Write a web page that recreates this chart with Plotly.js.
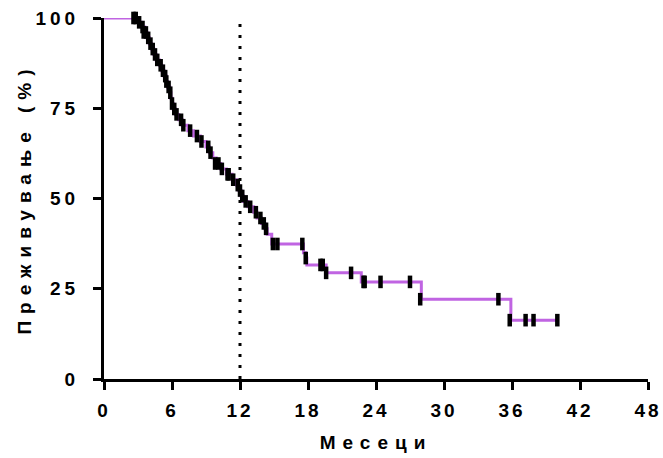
<!DOCTYPE html>
<html>
<head>
<meta charset="utf-8">
<script src="https://cdn.plot.ly/plotly-3.0.1.min.js"></script>
<style>
html,body{margin:0;padding:0;background:#fff;}
#chart{width:663px;height:458px;}
g.xtick text{letter-spacing:3px !important;}
g.ytick text{letter-spacing:4px !important;}
g.g-xtitle text, g.annotation text{letter-spacing:7px !important;}
</style>
</head>
<body>
<div id="chart"></div>
<script>
// Kaplan-Meier step curve (months, survival %)
var stepTimes = [0, 3.0, 3.3, 3.6, 3.8, 4.0, 4.2, 4.4, 4.6, 4.9, 5.1, 5.3, 5.5, 5.6, 5.8, 5.9, 6.0, 6.1, 6.3, 6.6, 6.9, 7.4, 7.9, 8.5, 9.0, 9.3, 9.6, 9.9, 10.3, 10.8, 11.3, 11.7, 11.9, 12.1, 12.3, 12.7, 13.2, 13.5, 13.9, 14.2, 14.4, 14.8, 17.6, 17.8, 17.9, 19.6, 22.7, 28.0, 35.9, 40.0];
var stepSurv  = [100, 98.8, 97.5, 96.0, 94.5, 92.9, 91.4, 89.9, 88.4, 86.9, 85.4, 83.9, 82.4, 80.9, 79.3, 77.8, 76.3, 74.8, 73.3, 71.8, 70.3, 68.8, 67.3, 65.8, 64.3, 62.7, 61.2, 59.7, 58.2, 56.7, 55.2, 53.7, 52.2, 50.7, 49.2, 47.7, 46.2, 44.6, 43.1, 41.6, 40.1, 37.4, 35.0, 33.5, 31.6, 29.4, 26.9, 22.1, 16.3, 16.3];

// Censored observations (months, survival %)
var censTimes = [2.6, 2.8, 3.1, 3.4, 3.5, 3.7, 3.9, 4.1, 4.3, 4.5, 4.7, 5.0, 5.2, 5.4, 5.5, 5.7, 5.85, 6.0, 6.2, 6.4, 6.8, 7.0, 7.6, 8.2, 8.6, 9.2, 9.4, 9.8, 10.1, 10.4, 10.9, 11.0, 11.4, 11.8, 12.0, 12.2, 12.5, 12.9, 13.4, 13.8, 14.1, 14.3, 14.9, 15.3, 17.5, 17.8, 19.1, 19.3, 19.6, 21.8, 22.9, 23.0, 24.4, 27.0, 27.9, 34.8, 35.8, 37.2, 37.9, 40.0];
var censSurv  = [100, 100, 98.8, 97.5, 96.0, 96.0, 94.5, 92.9, 91.4, 89.9, 88.4, 86.9, 85.4, 83.9, 82.4, 80.9, 79.3, 76.3, 74.8, 73.3, 71.8, 70.3, 68.8, 67.3, 65.8, 64.3, 62.7, 59.7, 59.7, 58.2, 56.7, 56.7, 55.2, 53.7, 52.2, 50.7, 49.2, 47.7, 46.2, 44.6, 43.1, 41.6, 37.4, 37.4, 37.4, 33.5, 31.6, 31.6, 29.4, 29.4, 26.9, 26.9, 26.9, 26.9, 22.1, 22.1, 16.3, 16.3, 16.3, 16.3];

var xTicks = [0, 6, 12, 18, 24, 30, 36, 42, 48];
var yTicks = [0, 25, 50, 75, 100];
var refMonth = 12;
var xTitle = 'Месеци';
var yTitle = 'Преживување (%)';

var traces = [
  {
    x: stepTimes, y: stepSurv, type: 'scatter', mode: 'lines',
    line: {shape: 'hv', color: '#c064e2', width: 3},
    hoverinfo: 'skip', showlegend: false
  },
  {
    x: censTimes, y: censSurv, type: 'scatter', mode: 'markers',
    marker: {symbol: 'line-ns', size: 9, color: '#000', line: {color: '#000', width: 4.5}},
    cliponaxis: false, showlegend: false
  }
];

var fontFam = '"Liberation Sans", Arial, sans-serif';
var layout = {
  width: 663, height: 458,
  margin: {l: 104, r: 15, t: 18, b: 79},
  paper_bgcolor: '#fff', plot_bgcolor: '#fff',
  font: {family: fontFam, size: 19, color: '#000', weight: 'bold'},
  xaxis: {
    range: [0, 48], tickvals: xTicks, ticktext: xTicks.map(String),
    showgrid: false, zeroline: false, showline: true, linecolor: '#000', linewidth: 3,
    ticks: 'outside', ticklen: 8, tickwidth: 3, tickcolor: '#000',
    ticklabeloverflow: 'allow', ticklabelstandoff: 4,
    tickfont: {family: fontFam, size: 19, weight: 'bold'},
    title: {text: xTitle, font: {family: fontFam, size: 19, weight: 'bold'}, standoff: 16}
  },
  yaxis: {
    range: [0, 100], tickvals: yTicks, ticktext: yTicks.map(String),
    showgrid: false, zeroline: false, showline: true, linecolor: '#000', linewidth: 3,
    ticks: 'outside', ticklen: 8, tickwidth: 3, tickcolor: '#000',
    ticklabeloverflow: 'allow', ticklabelstandoff: 10,
    tickfont: {family: fontFam, size: 19, weight: 'bold'}
  },
  annotations: [{
    text: yTitle, xref: 'paper', yref: 'paper', x: -0.146, y: 0.5,
    xanchor: 'center', yanchor: 'middle', textangle: -90, showarrow: false,
    font: {family: fontFam, size: 19, weight: 'bold', color: '#000'}
  }],
  shapes: [{
    type: 'line', xref: 'x', yref: 'y', x0: refMonth, x1: refMonth, y0: 0, y1: 100,
    line: {color: '#000', width: 3, dash: '3px,8px'}
  }]
};

Plotly.newPlot('chart', traces, layout, {displayModeBar: false, staticPlot: true});
</script>
</body>
</html>
